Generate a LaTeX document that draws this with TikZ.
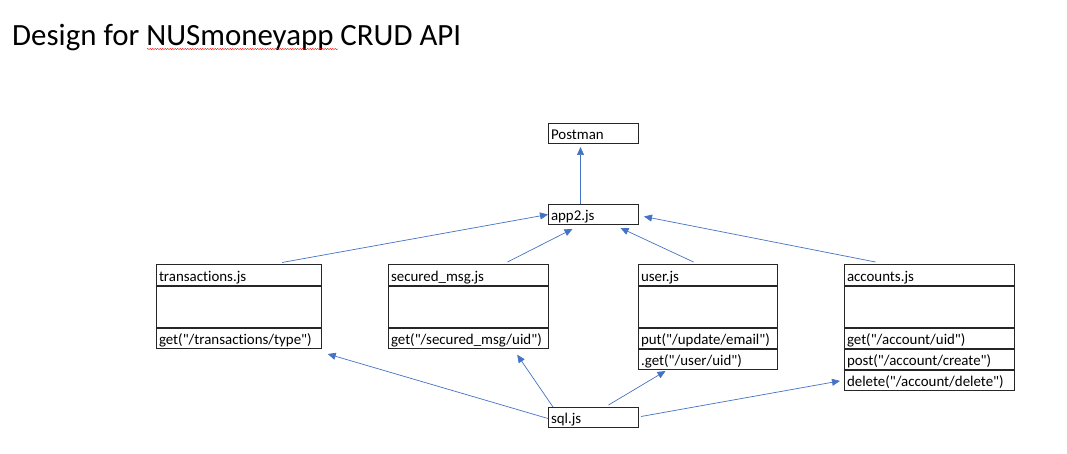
\documentclass[tikz,border=0pt]{standalone}
\usepackage{fontspec}
\setmainfont{Carlito}[Ligatures={TeXOff,NoCommon}]
\usetikzlibrary{positioning,arrows.meta,decorations.pathmorphing}
\definecolor{linkblue}{HTML}{4472C4}
\newcommand{\cellfont}{\fontsize{14.9}{16}\selectfont}

\begin{document}
\begin{tikzpicture}[x=1pt,y=-1pt,
	cell/.style={draw=black!85, line width=1pt, inner xsep=2.5pt, inner ysep=0pt,
		text width=#1, align=left, font=\cellfont, minimum height=20pt,
		text height=16pt, text depth=4pt},
	head/.style={cell=#1, minimum height=21pt},
	blank/.style={cell=#1, minimum height=40.7pt},
	link/.style={draw=linkblue, line width=0.7pt, -{Triangle[length=8pt,width=7pt]}}]
	\useasboundingbox (0,0) rectangle (1067,454);
	\node[anchor=base west, inner sep=0pt, font=\fontsize{30.9}{34}\selectfont] (title) at (12,46) {Design for NUSmoneyapp CRUD API};
	\draw[red, line width=0.45pt, decorate, decoration={snake, amplitude=0.6pt, segment length=2.5pt}]
		([xshift=135pt,yshift=-3pt]title.base west) -- ([xshift=326pt,yshift=-3pt]title.base west);

	% top
	\node[cell=85pt, anchor=north west] (post) at (548,123) {Postman};
	\node[cell=85pt, anchor=north west] (app) at (548,204) {app2.js};

	% classes
	\node[head=160pt, anchor=north west] (trans) at (156,264) {transactions.js};
	\node[blank=160pt, below=0pt of trans] (transbody) {};
	\node[cell=160pt, below=0pt of transbody] (transget) {get("/transactions/type")};

	\node[head=155pt, anchor=north west] (sec) at (388,264) {secured\_msg.js};
	\node[blank=155pt, below=0pt of sec] (secbody) {};
	\node[cell=155pt, below=0pt of secbody] (secget) {get("/secured\_msg/uid")};

	\node[head=134pt, anchor=north west] (user) at (638,264) {user.js};
	\node[blank=134pt, below=0pt of user] (userbody) {};
	\node[cell=134pt, below=0pt of userbody] (userput) {put("/update/email")};
	\node[cell=134pt, below=0pt of userput] (userget) {.get("/user/uid")};

	\node[head=165pt, anchor=north west] (acc) at (844,264) {accounts.js};
	\node[blank=165pt, below=0pt of acc] (accbody) {};
	\node[cell=165pt, below=0pt of accbody] (accget) {get("/account/uid")};
	\node[cell=165pt, below=0pt of accget] (accpost) {post("/account/create")};
	\node[cell=165pt, below=0pt of accpost] (accdel) {delete("/account/delete")};

	\node[cell=85pt, anchor=north west] (sql) at (548,407) {sql.js};

	% connectors
	\draw[link] ([xshift=-13pt]app.north) -- ([xshift=-13pt,yshift=-3pt]post.south);
	\draw[link] ([xshift=43pt,yshift=1.5pt]trans.north) -- (app.west);
	\draw[link] ([xshift=39pt,yshift=2pt]sec.north) -- ([xshift=-21pt,yshift=-4pt]app.south);
	\draw[link] ([xshift=-14.5pt,yshift=2pt]user.north) -- ([xshift=27pt,yshift=-3pt]app.south);
	\draw[link] ([xshift=-54pt,yshift=2pt]acc.north) -- ([xshift=5pt,yshift=-2pt]app.east);

	\draw[link] ([yshift=-1pt]sql.west) -- ([xshift=5.7pt,yshift=-5.3pt]transget.south east);
	\draw[link] ([xshift=5pt]sql.north west) -- ([xshift=48.7pt,yshift=-6pt]secget.south);
	\draw[link] ([xshift=15pt,yshift=2pt]sql.north) -- ([xshift=-42.5pt,yshift=-1.3pt]userget.south);
	\draw[link] ([xshift=2pt,yshift=1pt]sql.east) -- ([xshift=-4pt,yshift=-0.7pt]accdel.west);
\end{tikzpicture}
\end{document}
